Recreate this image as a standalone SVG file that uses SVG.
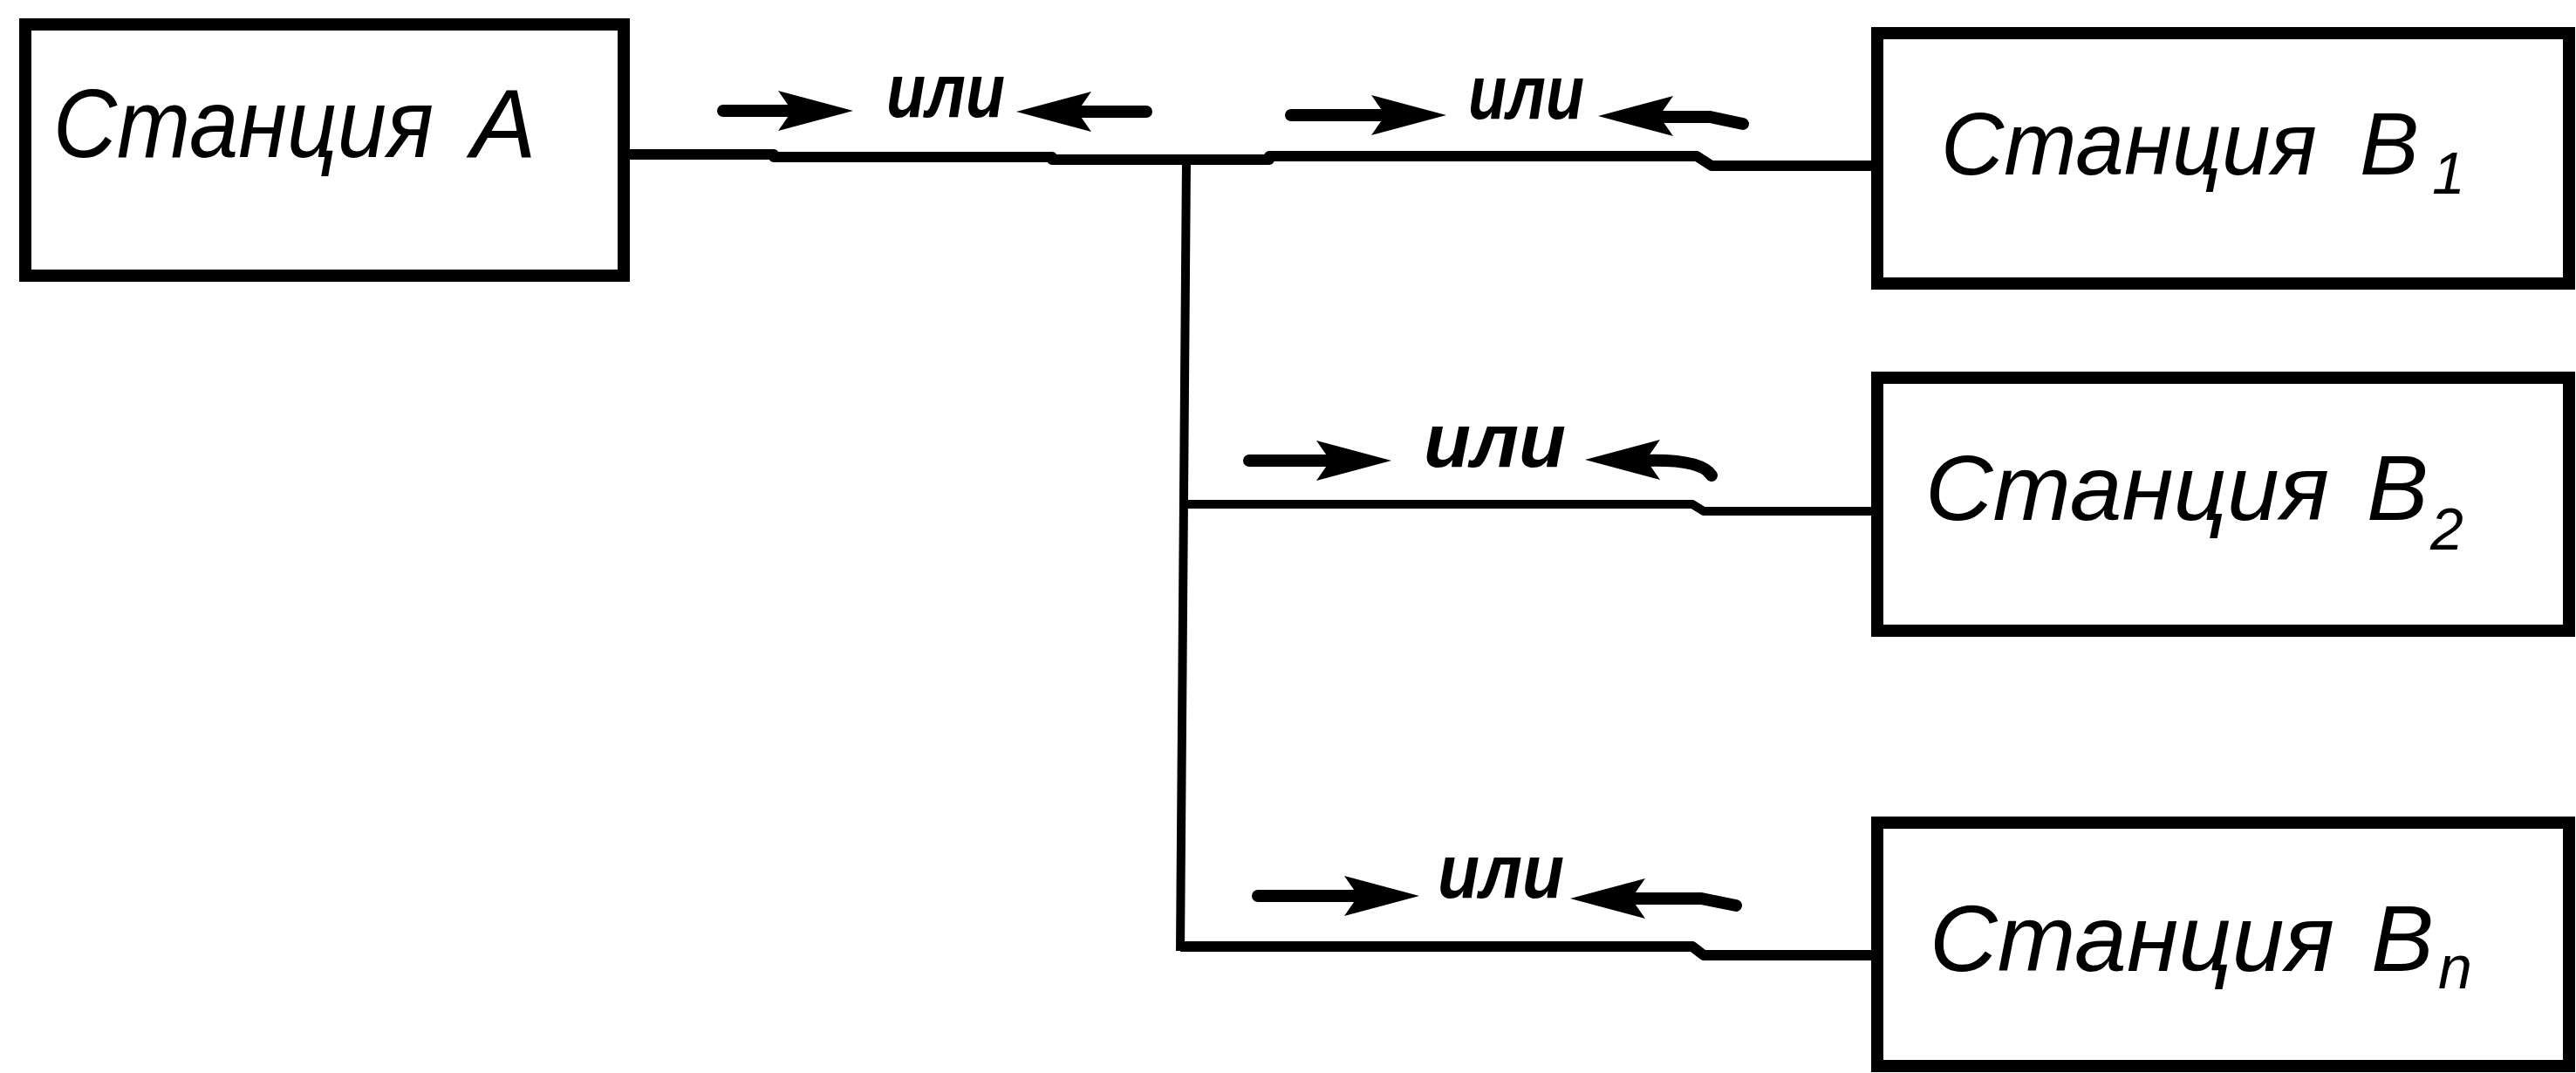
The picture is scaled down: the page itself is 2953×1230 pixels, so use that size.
<svg xmlns="http://www.w3.org/2000/svg" width="2953" height="1230" viewBox="0 0 2953 1230">
<style>
.box{fill:none;stroke:#000;stroke-width:14;stroke-linejoin:miter}
.ln{fill:none;stroke:#000;stroke-linejoin:round}
.lbl{font-family:"Liberation Sans","DejaVu Sans",sans-serif;font-style:italic;fill:#000}
.ili{font-family:"Liberation Sans","DejaVu Sans",sans-serif;font-style:italic;font-weight:bold;font-size:88px;fill:#000}
.shaft{fill:none;stroke:#000;stroke-width:14;stroke-linecap:round}
.head{fill:#000}
</style>
<defs>
<path id="hd" d="M0,0 L-86,-23 L-70,0 L-86,23 Z"/>
</defs>
<rect width="2953" height="1230" fill="#fff"/>

<g id="connectors">
<path class="ln" stroke-width="12" d="M714,177 H887 V180 H1206 V183 H1455 V179 H1945 L1962,190 H2152"/>
<path class="ln" stroke-width="10" d="M1360,183 L1353,1090"/>
<path class="ln" stroke-width="10" d="M1353,578 H1940 L1953,586 H2152"/>
<path class="ln" stroke-width="12" d="M1353,1085 H1940 L1953,1095 H2152"/>
</g>

<g id="labels">
<g id="label1">
<line class="shaft" x1="829" y1="127" x2="910" y2="127"/>
<use href="#hd" class="head" transform="translate(978,127)"/>
<text class="ili" x="1016" y="134" textLength="136" lengthAdjust="spacingAndGlyphs">или</text>
<line class="shaft" x1="1235" y1="128" x2="1314" y2="128"/>
<use href="#hd" class="head" transform="translate(1165,128) rotate(180)"/>
</g>
<g id="label2">
<line class="shaft" x1="1480" y1="132" x2="1590" y2="132"/>
<use href="#hd" class="head" transform="translate(1658,132)"/>
<text class="ili" x="1683" y="136" textLength="133" lengthAdjust="spacingAndGlyphs">или</text>
<path class="shaft" d="M1900,134 L1960,134 L1998,142"/>
<use href="#hd" class="head" transform="translate(1832,133) rotate(180)"/>
</g>
<g id="label3">
<line class="shaft" x1="1432" y1="528" x2="1525" y2="528"/>
<use href="#hd" class="head" transform="translate(1595,528)"/>
<text class="ili" x="1632" y="535" textLength="163" lengthAdjust="spacingAndGlyphs">или</text>
<path class="shaft" d="M1885,528 Q1950,526 1962,545"/>
<use href="#hd" class="head" transform="translate(1817,527) rotate(180)"/>
</g>
<g id="label4">
<line class="shaft" x1="1442" y1="1027" x2="1560" y2="1027"/>
<use href="#hd" class="head" transform="translate(1627,1027)"/>
<text class="ili" x="1648" y="1029" textLength="145" lengthAdjust="spacingAndGlyphs">или</text>
<path class="shaft" d="M1870,1030 L1950,1030 L1990,1038"/>
<use href="#hd" class="head" transform="translate(1800,1030) rotate(180)"/>
</g>
</g>

<g id="stationA">
<rect class="box" x="29" y="28" width="686" height="288"/>
<text class="lbl" font-size="112" y="180"><tspan x="61" textLength="436" lengthAdjust="spacingAndGlyphs">Станция</tspan><tspan x="540">A</tspan></text>
</g>

<g id="stationB1">
<rect class="box" x="2152" y="38" width="793" height="287"/>
<text class="lbl" font-size="102" y="200"><tspan x="2225" textLength="431" lengthAdjust="spacingAndGlyphs">Станция</tspan><tspan x="2705">B</tspan><tspan x="2788" y="222" font-size="68">1</tspan></text>
</g>

<g id="stationB2">
<rect class="box" x="2152" y="433" width="793" height="290"/>
<text class="lbl" font-size="106" y="596"><tspan x="2207" textLength="463" lengthAdjust="spacingAndGlyphs">Станция</tspan><tspan x="2713">B</tspan><tspan x="2786" y="630" font-size="68">2</tspan></text>
</g>

<g id="stationBn">
<rect class="box" x="2152" y="943" width="793" height="279"/>
<text class="lbl" font-size="108" y="1113"><tspan x="2212" textLength="464" lengthAdjust="spacingAndGlyphs">Станция</tspan><tspan x="2718">B</tspan><tspan x="2795" y="1133" font-size="70">n</tspan></text>
</g>
</svg>
